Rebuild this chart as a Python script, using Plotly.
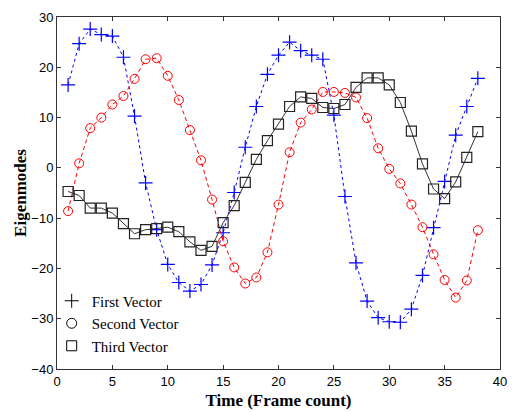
import plotly.graph_objects as go

frames = list(range(1, 39))

first_vector = [16.5, 24.7, 27.6, 26.5, 26.2, 22.0, 10.3, -3.0, -12.3, -19.2,
                -22.8, -24.5, -23.2, -19.3, -12.9, -4.9, 4.1, 12.2, 18.6, 22.4,
                25.0, 23.3, 22.4, 21.6, 10.5, -5.7, -18.9, -26.5, -29.8, -30.6,
                -30.7, -28.1, -21.4, -11.9, -2.7, 6.5, 12.2, 17.8]

second_vector = [-8.6, 0.9, 7.9, 10.0, 12.6, 14.3, 17.7, 21.6, 21.8, 18.3,
                 13.5, 7.5, 1.5, -6.3, -14.6, -19.8, -23.0, -21.8, -16.8, -7.3,
                 3.1, 9.0, 11.6, 15.1, 15.1, 14.9, 14.0, 9.9, 3.9, -0.2,
                 -3.1, -7.3, -11.8, -17.2, -22.3, -25.8, -22.4, -12.4]

third_vector = [-4.7, -5.5, -8.0, -8.0, -9.0, -11.1, -13.1, -12.3, -12.1, -11.8,
                -12.7, -14.7, -16.4, -15.6, -10.9, -7.5, -2.9, 1.7, 5.4, 8.7,
                12.2, 14.1, 13.8, 12.0, 11.8, 12.6, 16.0, 17.9, 17.9, 16.5,
                13.0, 7.3, 0.8, -4.2, -6.1, -2.8, 2.1, 7.2]

series_names = ["First Vector", "Second Vector", "Third Vector"]
x_ticks = [0, 5, 10, 15, 20, 25, 30, 35, 40]
y_ticks = [-40, -30, -20, -10, 0, 10, 20, 30]

SERIF = "Liberation Serif"
SANS = "Liberation Sans"

fig = go.Figure()

fig.add_trace(go.Scatter(
    x=frames, y=first_vector, mode="lines+markers", showlegend=False,
    line=dict(color="#0000FF", width=1, dash="3px,3px"),
    marker=dict(symbol="cross-thin-open", size=10, color="#0000FF",
                line=dict(color="#0000FF", width=1.2))))
fig.add_trace(go.Scatter(
    x=frames, y=second_vector, mode="lines+markers", showlegend=False,
    line=dict(color="#FF0000", width=1, dash="4px,3px"),
    marker=dict(symbol="circle-open", size=9, color="#FF0000",
                line=dict(color="#FF0000", width=1))))
fig.add_trace(go.Scatter(
    x=frames, y=third_vector, mode="lines+markers", showlegend=False,
    line=dict(color="#333333", width=1),
    marker=dict(symbol="square-open", size=10, color="#222222",
                line=dict(color="#222222", width=1.2))))

legend_symbols = ["cross-thin-open", "circle-open", "square-open"]
for name, sym in zip(series_names, legend_symbols):
    fig.add_trace(go.Scatter(
        x=[None], y=[None], mode="markers", name=name,
        marker=dict(symbol=sym, size=10, color="black",
                    line=dict(color="black", width=1))))

axis_common = dict(
    showline=True, linecolor="#333333", linewidth=1, mirror="ticks",
    ticks="inside", ticklen=4, tickcolor="#333333",
    showgrid=False, zeroline=False, ticklabeloverflow="allow",
    tickfont=dict(family=SANS, size=13, color="black"),
)

fig.update_xaxes(range=[0, 40], tickvals=x_ticks,
                 title=dict(text="<b>Time (Frame count)</b>", standoff=6,
                            font=dict(family=SERIF, size=17, color="black")),
                 **axis_common)
fig.update_yaxes(range=[-40, 30], tickvals=y_ticks,
                 title=dict(text="<b>Eigenmodes</b>", standoff=0,
                            font=dict(family=SERIF, size=17, color="black")),
                 **axis_common)

fig.update_layout(
    width=513, height=412,
    margin=dict(l=57, r=6, t=17, b=42),
    plot_bgcolor="white", paper_bgcolor="white",
    legend=dict(x=-0.012, y=0.24, xanchor="left", yanchor="top",
                bgcolor="rgba(0,0,0,0)", tracegroupgap=0,
                font=dict(family=SERIF, size=15, color="black")),
)

fig.write_html("out.html")
